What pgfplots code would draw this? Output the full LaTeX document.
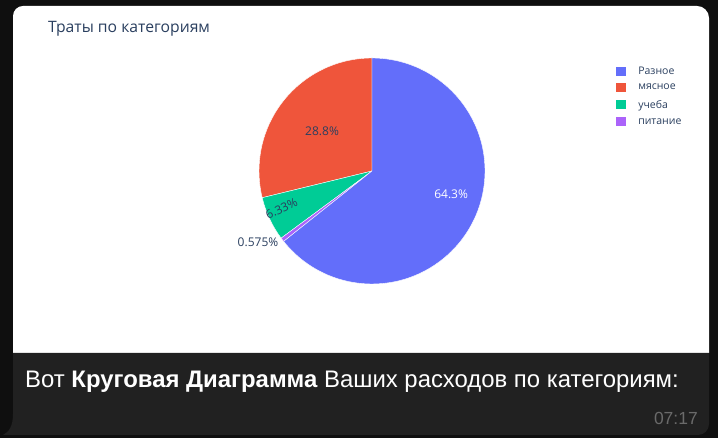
\documentclass[border=0pt]{standalone}
\usepackage{pgfplots}
\usepackage{pgfplotstable}
\pgfplotsset{compat=1.18}
\usepackage{fontspec}
\setmainfont{Open Sans}
\newfontfamily\plotfont{Open Sans}
\newfontfamily\capfont{Liberation Sans}
\definecolor{bg}{HTML}{0F0F0F}
\definecolor{bar}{HTML}{212121}
\definecolor{pblue}{HTML}{636EFA}
\definecolor{pred}{HTML}{EF553B}
\definecolor{pgreen}{HTML}{00CC96}
\definecolor{ppurple}{HTML}{AB63FA}
\definecolor{ptext}{HTML}{2A3F5F}
\definecolor{timec}{HTML}{6A6A6A}
\colorlet{slice0}{pred}
\colorlet{slice1}{pgreen}
\colorlet{slice2}{ppurple}
\colorlet{slice3}{pblue}
% slices in counter-clockwise order starting at 12 o'clock
\pgfplotstableread{
label value
мясное 28.8
учеба 6.33
питание 0.575
Разное 64.3
}\piedata
\begin{document}
\begin{tikzpicture}[x=1pt,y=1pt]
\fill[bg] (0,0) rectangle (718,438);
% white card
\fill[white] (13,85) -- (13,422) arc[start angle=180,end angle=90,radius=10] -- (697,432) arc[start angle=90,end angle=0,radius=12] -- (709,85) -- cycle;
% dark caption bar
\fill[bar] (13,85) -- (709,85) -- (709,14) arc[start angle=0,end angle=-90,radius=11] -- (3,3) .. controls (9,6) and (13,12) .. (13,24) -- cycle;
\node[anchor=base west, inner sep=0pt, text=ptext, font=\plotfont\fontsize{15.7}{18}\selectfont] at (48,405.7) {Траты по категориям};
\node[anchor=base west, inner sep=0pt, text=white, font=\capfont\fontsize{23.9}{28}\selectfont] at (25,50.5) {Вот \textbf{Круговая Диаграмма} Ваших расходов по категориям:};
\node[anchor=base east, inner sep=0pt, text=timec, font=\capfont\fontsize{17.5}{20}\selectfont] at (698,13) {07:17};
\begin{axis}[
  at={(372pt,267pt)}, anchor=origin,
  width=226pt, height=226pt, scale only axis,
  xmin=-1, xmax=1, ymin=-1, ymax=1,
  hide axis, clip=false,
  legend cell align=left,
  legend image code/.code={\fill[#1, draw=none] (0pt,-4.5pt) rectangle (10pt,4.5pt);},
  legend style={at={(1.58,0.972)}, anchor=north west, draw=none, fill=none,
    inner sep=0pt, row sep=4.7pt, text=ptext,
    /tikz/every odd column/.append style={column sep=10pt},
    font=\plotfont\fontsize{10.5}{12}\selectfont},
]
\def\cum{90}
\pgfplotsforeachungrouped \i in {0,...,3} {
  \pgfplotstablegetelem{\i}{value}\of\piedata
  \let\v\pgfplotsretval
  \pgfmathsetmacro{\a}{\cum}
  \pgfmathsetmacro{\b}{\cum+3.6*\v}
  \edef\temp{\noexpand\fill[slice\i, draw=white, line width=0.4pt] (axis cs:0,0) -- (axis cs:{cos(\a)},{sin(\a)}) arc[start angle=\a, end angle=\b, radius=1] -- cycle;}
  \temp
  \global\let\cum\b
}
\addlegendimage{fill=pblue, draw=none}\addlegendentry{Разное}
\addlegendimage{fill=pred, draw=none}\addlegendentry{мясное}
\addlegendimage{fill=pgreen, draw=none}\addlegendentry{учеба}
\addlegendimage{fill=ppurple, draw=none}\addlegendentry{питание}
\begin{scope}[every node/.style={font=\plotfont\fontsize{12}{14}\selectfont, inner sep=0pt}]
\node[text=white] at (axis cs:0.70,-0.21) {64.3\%};
\node[text=ptext] at (axis cs:-0.442,0.354) {28.8\%};
\node[text=ptext, rotate=25] at (axis cs:-0.80,-0.33) {6.33\%};
\node[text=ptext] at (axis cs:-1.009,-0.628) {0.575\%};
\end{scope}
\end{axis}
\end{tikzpicture}
\end{document}
